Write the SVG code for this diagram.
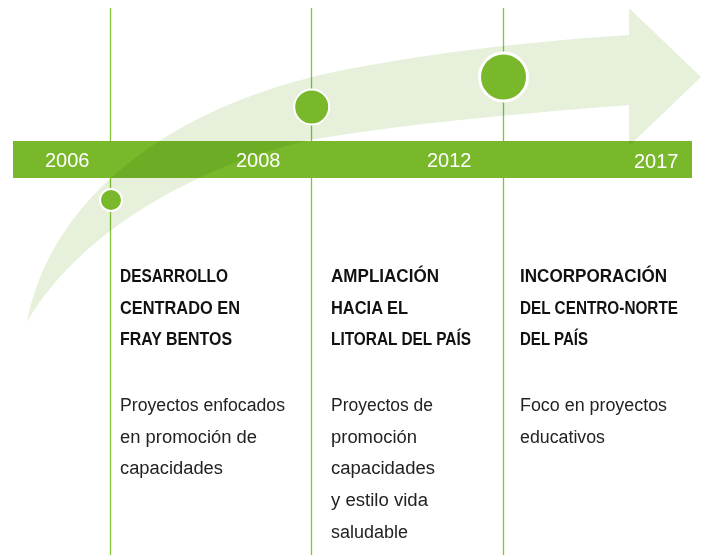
<svg xmlns="http://www.w3.org/2000/svg" width="706" height="555" viewBox="0 0 706 555">
<style>
.bg{fill:#ffffff}
.bar{fill:#79b82b}
.arrow{fill:#e6f0da;mix-blend-mode:multiply}
.vline{stroke:#86c23a;stroke-width:1.3;fill:none}
.dot{fill:#79b82b;stroke:#ffffff}
.year{font-family:"Liberation Sans",Arial,sans-serif;font-size:20px;fill:#ffffff}
.head{font-family:"Liberation Sans",Arial,sans-serif;font-size:17.5px;font-weight:bold;fill:#111111}
.body{font-family:"Liberation Sans",Arial,sans-serif;font-size:18px;fill:#222222}
</style>
<rect class="bg" x="0" y="0" width="706" height="555"/>
<g id="connectors">
<line class="vline" x1="110.5" y1="8" x2="110.5" y2="555"/>
<line class="vline" x1="311.5" y1="8" x2="311.5" y2="555"/>
<line class="vline" x1="503.5" y1="8" x2="503.5" y2="555"/>
</g>
<g id="timeline-bar">
<rect class="bar" x="13" y="141" width="679" height="37"/>
</g>
<g id="growth-arrow">
<path class="arrow" d="M27,322 C50,200 170,100 360,67 C450,50 550,40 629,35 L629,8 L701,77 L629,146 L629,105 C500,115 400,125 310,140 C200,165 80,230 27,322 Z"/>
</g>
<g id="years">
<text class="year" x="45" y="167">2006</text>
<text class="year" x="236" y="167">2008</text>
<text class="year" x="427" y="167">2012</text>
<text class="year" x="634" y="168">2017</text>
</g>
<g id="milestone-1">
<circle class="dot" cx="111" cy="200" r="11" stroke-width="2"/>
<text class="head" x="120" y="282" textLength="108" lengthAdjust="spacingAndGlyphs">DESARROLLO</text>
<text class="head" x="120" y="313.5" textLength="120" lengthAdjust="spacingAndGlyphs">CENTRADO EN</text>
<text class="head" x="120" y="345" textLength="112" lengthAdjust="spacingAndGlyphs">FRAY BENTOS</text>
<text class="body" x="120" y="411" textLength="165" lengthAdjust="spacingAndGlyphs">Proyectos enfocados</text>
<text class="body" x="120" y="443" textLength="137" lengthAdjust="spacingAndGlyphs">en promoción de</text>
<text class="body" x="120" y="474" textLength="103" lengthAdjust="spacingAndGlyphs">capacidades</text>
</g>
<g id="milestone-2">
<circle class="dot" cx="311.7" cy="107" r="17.5" stroke-width="2"/>
<text class="head" x="331" y="282" textLength="108" lengthAdjust="spacingAndGlyphs">AMPLIACIÓN</text>
<text class="head" x="331" y="313.5" textLength="77" lengthAdjust="spacingAndGlyphs">HACIA EL</text>
<text class="head" x="331" y="345" textLength="140" lengthAdjust="spacingAndGlyphs">LITORAL DEL PAÍS</text>
<text class="body" x="331" y="411" textLength="102" lengthAdjust="spacingAndGlyphs">Proyectos de</text>
<text class="body" x="331" y="443" textLength="86" lengthAdjust="spacingAndGlyphs">promoción</text>
<text class="body" x="331" y="474" textLength="104" lengthAdjust="spacingAndGlyphs">capacidades</text>
<text class="body" x="331" y="506" textLength="97" lengthAdjust="spacingAndGlyphs">y estilo vida</text>
<text class="body" x="331" y="538" textLength="77" lengthAdjust="spacingAndGlyphs">saludable</text>
</g>
<g id="milestone-3">
<circle class="dot" cx="503.5" cy="77" r="24" stroke-width="3"/>
<text class="head" x="520" y="282" textLength="147" lengthAdjust="spacingAndGlyphs">INCORPORACIÓN</text>
<text class="head" x="520" y="313.5" textLength="158" lengthAdjust="spacingAndGlyphs">DEL CENTRO-NORTE</text>
<text class="head" x="520" y="345" textLength="68" lengthAdjust="spacingAndGlyphs">DEL PAÍS</text>
<text class="body" x="520" y="411" textLength="147" lengthAdjust="spacingAndGlyphs">Foco en proyectos</text>
<text class="body" x="520" y="443" textLength="85" lengthAdjust="spacingAndGlyphs">educativos</text>
</g>
</svg>
